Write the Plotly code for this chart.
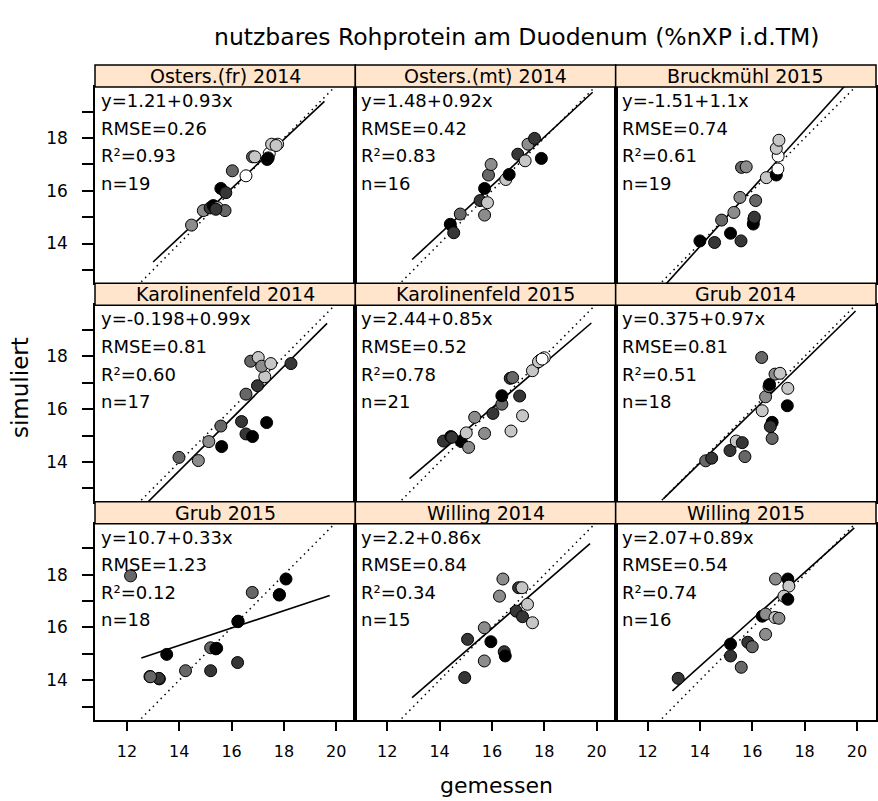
import plotly.graph_objects as go

W, H = 878, 801

panel_titles = ["Osters.(fr) 2014", "Osters.(mt) 2014", "Bruckmühl 2015",
                "Karolinenfeld 2014", "Karolinenfeld 2015", "Grub 2014",
                "Grub 2015", "Willing 2014", "Willing 2015"]

# gemessen (x), simuliert (y) and grey level (0 = black ... 5 = white) per site
x_osters_fr = [14.47, 14.92, 15.18, 15.30, 15.46, 15.75, 15.59, 15.78, 16.03, 16.55,
               16.80, 16.89, 17.36, 17.44, 17.53, 17.76, 15.40, 17.40, 17.70]
y_osters_fr = [14.70, 15.25, 15.35, 15.44, 15.36, 15.25, 16.09, 15.93, 16.76, 16.57,
               17.29, 17.29, 17.19, 17.42, 17.77, 17.77, 15.30, 17.25, 17.72]
g_osters_fr = [3, 3, 1, 0, 4, 2, 0, 1, 2, 5, 2, 4, 0, 5, 4, 5, 1, 0, 4]

x_osters_mt = [14.41, 14.54, 14.79, 15.55, 15.83, 15.72, 15.72, 15.87, 15.97, 16.53,
               16.66, 16.99, 17.27, 17.38, 17.63, 17.89]
y_osters_mt = [14.73, 14.41, 15.12, 15.63, 15.55, 15.08, 16.09, 16.60, 17.00, 16.43,
               16.62, 17.39, 17.14, 17.77, 17.99, 17.23]
g_osters_mt = [0, 1, 2, 1, 4, 3, 0, 2, 3, 4, 0, 1, 4, 3, 1, 0]

x_bruck_15 = [14.00, 14.56, 14.83, 15.17, 15.57, 15.30, 15.53, 16.13, 16.06, 16.04,
              15.59, 15.77, 16.54, 16.92, 16.98, 16.99, 16.92, 17.02, 16.08]
y_bruck_15 = [14.10, 14.04, 14.89, 14.39, 14.10, 15.18, 15.75, 15.63, 14.92, 14.74,
              16.89, 16.91, 16.50, 16.60, 16.83, 17.32, 17.61, 17.92, 15.00]
g_bruck_15 = [0, 1, 2, 0, 1, 3, 3, 2, 1, 0, 2, 3, 4, 0, 5, 5, 4, 4, 1]

x_karo_14 = [13.99, 14.73, 15.13, 15.62, 15.59, 16.38, 16.55, 16.80, 17.34, 16.55,
             16.99, 17.27, 16.73, 17.02, 17.15, 17.50, 18.27]
y_karo_14 = [14.17, 14.05, 14.77, 14.58, 15.36, 15.53, 15.06, 14.96, 15.49, 16.57,
             16.89, 17.23, 17.82, 17.96, 17.63, 17.73, 17.73]
g_karo_14 = [2, 3, 3, 0, 2, 1, 1, 0, 0, 2, 1, 4, 2, 4, 3, 4, 1]

x_karo_15 = [14.15, 14.43, 14.83, 15.11, 15.02, 15.34, 15.72, 16.04, 16.38, 16.38,
             16.73, 17.06, 17.17, 16.70, 16.79, 17.55, 17.85, 18.00, 17.78, 17.92, 14.47]
y_karo_15 = [14.79, 14.96, 14.77, 14.55, 15.10, 15.69, 15.08, 15.84, 16.19, 16.51,
             15.17, 16.50, 15.75, 17.17, 17.20, 17.46, 17.86, 17.95, 17.80, 17.90, 14.93]
g_karo_15 = [1, 0, 0, 3, 4, 3, 3, 1, 2, 0, 4, 1, 4, 1, 2, 4, 5, 5, 4, 5, 1]

x_grub_14 = [14.22, 14.45, 15.15, 15.39, 15.62, 15.72, 16.38, 16.51, 16.64, 16.66,
             16.87, 17.06, 16.36, 17.36, 17.34, 16.76, 16.69, 16.76]
y_grub_14 = [14.04, 14.14, 14.43, 14.79, 14.73, 14.20, 15.94, 16.47, 16.85, 16.94,
             17.33, 17.36, 17.96, 16.79, 16.13, 15.50, 15.34, 14.89]
g_grub_14 = [2, 1, 1, 4, 1, 2, 4, 3, 2, 0, 3, 4, 2, 4, 0, 0, 1, 2]

x_grub_15 = [12.14, 12.88, 13.24, 13.52, 14.24, 15.20, 15.43, 15.20, 16.23, 16.25,
             16.79, 17.82, 18.08, 13.22, 15.40, 16.24, 17.83, 12.90]
y_grub_15 = [17.96, 14.14, 14.05, 14.98, 14.36, 15.23, 15.21, 14.36, 14.67, 16.24,
             17.33, 17.23, 17.84, 14.07, 15.19, 16.22, 17.25, 14.13]
g_grub_15 = [2, 2, 1, 0, 2, 2, 0, 1, 1, 0, 2, 0, 0, 1, 0, 0, 0, 2]

x_will_14 = [14.96, 15.07, 15.71, 15.71, 15.96, 16.47, 16.51, 16.42, 16.29, 16.93,
             17.17, 17.02, 17.15, 17.36, 17.55]
y_will_14 = [14.10, 15.55, 15.99, 14.73, 15.46, 15.08, 14.92, 17.84, 17.19, 16.62,
             16.41, 17.51, 17.51, 16.88, 16.18]
g_will_14 = [1, 1, 3, 3, 0, 1, 0, 3, 3, 1, 1, 1, 4, 4, 4]

x_will_15 = [13.17, 15.17, 15.17, 15.58, 15.83, 16.00, 16.38, 16.51, 16.51, 16.87,
             17.02, 16.89, 17.36, 17.40, 17.21, 17.36]
y_will_15 = [14.07, 15.37, 14.92, 14.49, 15.44, 15.27, 16.43, 16.51, 15.74, 16.38,
             16.35, 17.84, 17.84, 17.57, 17.19, 17.07]
g_will_15 = [1, 0, 1, 2, 1, 2, 0, 3, 3, 4, 3, 3, 0, 4, 4, 0]

xs = [x_osters_fr, x_osters_mt, x_bruck_15, x_karo_14, x_karo_15, x_grub_14,
      x_grub_15, x_will_14, x_will_15]
ys = [y_osters_fr, y_osters_mt, y_bruck_15, y_karo_14, y_karo_15, y_grub_14,
      y_grub_15, y_will_14, y_will_15]
gs = [g_osters_fr, g_osters_mt, g_bruck_15, g_karo_14, g_karo_15, g_grub_14,
      g_grub_15, g_will_14, g_will_15]

# regression statistics per site
intercepts = [1.21, 1.48, -1.51, -0.198, 2.44, 0.375, 10.7, 2.2, 2.07]
slopes = [0.93, 0.92, 1.1, 0.99, 0.85, 0.97, 0.33, 0.86, 0.89]
rmses = [0.26, 0.42, 0.74, 0.81, 0.52, 0.81, 1.23, 0.84, 0.54]
r2s = [0.93, 0.83, 0.61, 0.60, 0.78, 0.51, 0.12, 0.34, 0.74]
fit_from = [13.0, 12.95, 12.7, 12.8, 12.85, 12.6, 12.55, 12.95, 12.95]
fit_to = [19.55, 19.85, 19.6, 19.65, 19.8, 19.95, 19.75, 19.75, 19.9]
identity_span = [12.4, 19.85]

x_ticks = [12, 14, 16, 18, 20]
y_ticks = [13, 14, 15, 16, 17, 18, 19]

greys = ["#000000", "#363636", "#676767", "#8c8c8c", "#c6c6c6", "#ffffff"]

X_RANGE = [10.78, 20.73]
Y_RANGE = [12.49, 19.94]

# page geometry in pixels
LEFT, RIGHT, TOP, BOTTOM = 95, 876, 65, 720
STRIP = 22
col_w = (RIGHT - LEFT) / 3
row_h = (BOTTOM - TOP) / 3

FONT = "DejaVu Sans"

fig = go.Figure()
shapes = []
annotations = []
layout_axes = {}

for i in range(9):
    r, c = divmod(i, 3)
    n = i + 1
    xa = "x" if n == 1 else f"x{n}"
    ya = "y" if n == 1 else f"y{n}"
    px0 = LEFT + c * col_w
    px1 = px0 + col_w
    ptop = TOP + r * row_h
    pstrip = ptop + STRIP
    pbot = ptop + row_h

    # 1:1 reference line
    fig.add_trace(go.Scatter(
        x=identity_span, y=identity_span, mode="lines",
        line=dict(color="black", width=1.5, dash="1.5px,4px"),
        xaxis=xa, yaxis=ya, showlegend=False, hoverinfo="skip"))
    # fitted regression line
    fx = [fit_from[i], fit_to[i]]
    fy = [intercepts[i] + slopes[i] * v for v in fx]
    fig.add_trace(go.Scatter(
        x=fx, y=fy, mode="lines", line=dict(color="black", width=1.6),
        xaxis=xa, yaxis=ya, showlegend=False, hoverinfo="skip"))
    # observations
    fig.add_trace(go.Scatter(
        x=xs[i], y=ys[i], mode="markers",
        marker=dict(size=12, color=[greys[g] for g in gs[i]],
                    line=dict(color="black", width=1)),
        xaxis=xa, yaxis=ya, showlegend=False, cliponaxis=False))

    bottom_row = r == 2
    left_col = c == 0
    layout_axes["xaxis" if n == 1 else f"xaxis{n}"] = dict(
        domain=[px0 / W, px1 / W], range=X_RANGE, anchor=ya,
        showgrid=False, zeroline=False, showline=True, mirror=True,
        linecolor="black", linewidth=1.5,
        tickmode="array", tickvals=x_ticks,
        ticktext=[str(t) for t in x_ticks] if bottom_row else [""] * len(x_ticks),
        ticks="outside" if bottom_row else "", ticklen=9, tickwidth=1.5,
        tickcolor="black", showticklabels=bottom_row, ticklabelstandoff=7,
        tickfont=dict(family=FONT, size=16, color="black"))
    layout_axes["yaxis" if n == 1 else f"yaxis{n}"] = dict(
        domain=[1 - pbot / H, 1 - pstrip / H], range=Y_RANGE, anchor=xa,
        showgrid=False, zeroline=False, showline=True, mirror=True,
        linecolor="black", linewidth=1.5,
        tickmode="array", tickvals=y_ticks,
        ticktext=[str(t) if t % 2 == 0 else "" for t in y_ticks],
        ticks="outside" if left_col else "", ticklen=11, tickwidth=1.5,
        tickcolor="black", showticklabels=left_col, ticklabelstandoff=11,
        tickfont=dict(family=FONT, size=17, color="black"))

    # strip with site name
    shapes.append(dict(type="rect", xref="paper", yref="paper",
                       x0=px0 / W, x1=px1 / W, y0=1 - pstrip / H, y1=1 - ptop / H,
                       fillcolor="#ffe5cc", line=dict(color="black", width=1.5),
                       layer="above"))
    annotations.append(dict(
        text=panel_titles[i], xref="paper", yref="paper",
        x=(px0 + px1) / 2 / W, y=1 - (ptop + STRIP / 2) / H,
        xanchor="center", yanchor="middle", showarrow=False,
        font=dict(family=FONT, size=19, color="black")))

    # regression statistics text
    lines = [f"y={intercepts[i]:g}+{slopes[i]:g}x",
             f"RMSE={rmses[i]:.2f}",
             f"R²={r2s[i]:.2f}",
             f"n={len(xs[i])}"]
    for k, txt in enumerate(lines):
        annotations.append(dict(
            text=txt, xref="paper", yref="paper",
            x=(px0 + 4) / W, y=1 - (pstrip + 13.5 + k * 27.6) / H,
            xanchor="left", yanchor="middle", showarrow=False,
            font=dict(family=FONT, size=18, color="black")))

annotations.append(dict(
    text="nutzbares Rohprotein am Duodenum (%nXP i.d.TM)", xref="paper", yref="paper",
    x=517 / W, y=1 - 37 / H, xanchor="center", yanchor="middle", showarrow=False,
    font=dict(family=FONT, size=23.5, color="black")))
annotations.append(dict(
    text="gemessen", xref="paper", yref="paper",
    x=496 / W, y=1 - 785 / H, xanchor="center", yanchor="middle", showarrow=False,
    font=dict(family=FONT, size=22, color="black")))
annotations.append(dict(
    text="simuliert", xref="paper", yref="paper", textangle=-90,
    x=20 / W, y=1 - 388 / H, xanchor="center", yanchor="middle", showarrow=False,
    font=dict(family=FONT, size=23, color="black")))

fig.update_layout(
    width=W, height=H, margin=dict(l=0, r=0, t=0, b=0),
    paper_bgcolor="white", plot_bgcolor="white",
    shapes=shapes, annotations=annotations, **layout_axes)

fig.write_html("out.html")
